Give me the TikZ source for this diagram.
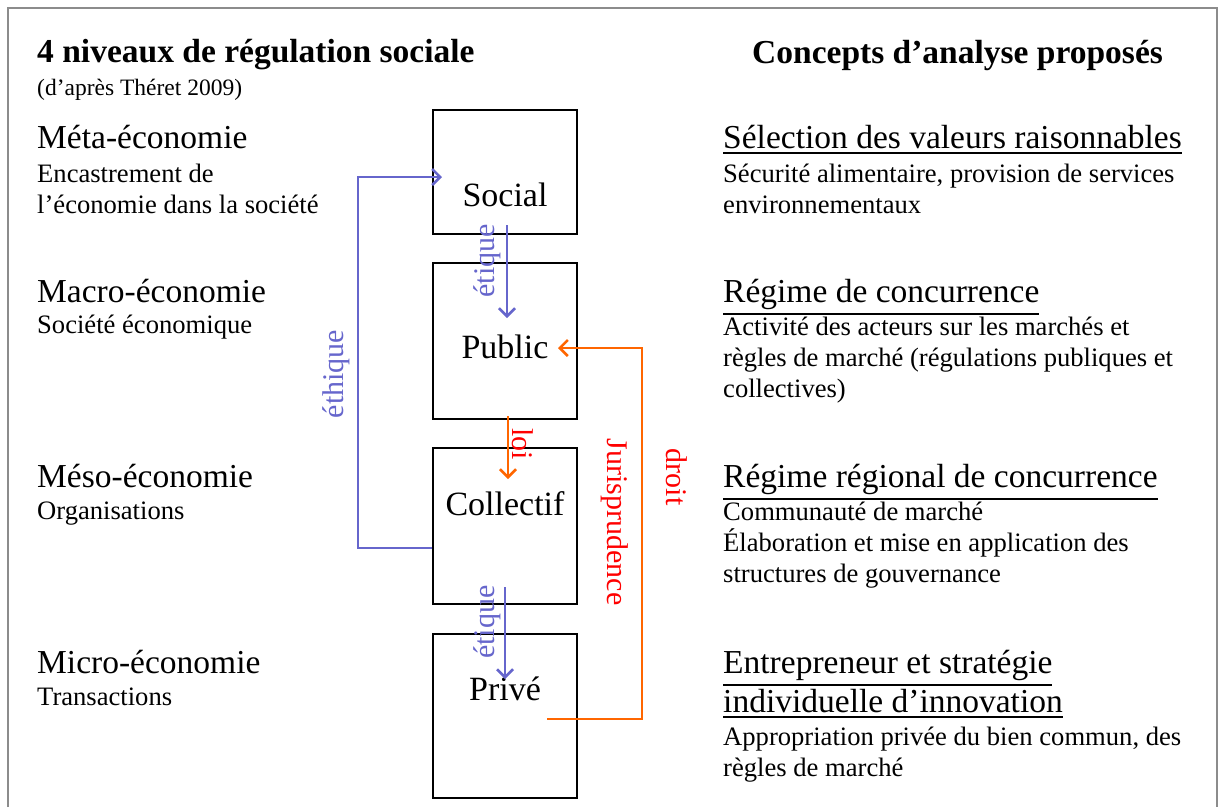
\documentclass[tikz,border=0pt]{standalone}
\usepackage{fontspec}
\setmainfont{Liberation Serif}
\usepackage{xcolor}
\usetikzlibrary{arrows.meta,calc}

\definecolor{ethblue}{HTML}{6666CC}
\definecolor{loiorange}{HTML}{FF6600}
\definecolor{loired}{HTML}{FF0000}
\definecolor{framegray}{HTML}{8C8C8C}
\newcommand{\fsz}[2]{\fontsize{#1}{#2}\selectfont}
\newcommand{\uln}[1]{\leavevmode\vtop{\hbox{#1}\kern3.5pt\hrule height 2pt}}

\tikzset{
  lvlbox/.style={draw, line width=2pt, minimum width=144pt, inner sep=0pt},
  boxtxt/.style={anchor=base, inner sep=0pt, font=\fsz{34}{38}},
  title/.style={anchor=base west, inner sep=0pt, font=\fsz{33.5}{38}\bfseries},
  head/.style={anchor=base west, inner sep=0pt, align=left, font=\fsz{33.5}{39}},
  sub/.style={anchor=base west, inner sep=0pt, align=left, font=\fsz{26.6}{31}},
  ethic/.style={draw=ethblue, line width=2.5pt, -{Straight Barb[length=8pt,width=16pt]}},
  legal/.style={draw=loiorange, line width=2.5pt, -{Straight Barb[length=8pt,width=16pt]}},
  bluelbl/.style={text=ethblue, inner sep=0pt, font=\fsz{30}{34}, rotate=90},
  redlbl/.style={text=loired, inner sep=0pt, font=\fsz{30}{34}, rotate=-90}
}

\begin{document}
\begin{tikzpicture}[x=1pt,y=-1pt]
    \useasboundingbox (0,0) rectangle (1226,807);
    \draw[framegray, line width=2pt] (8,807) -- (8,8) -- (1217,8) -- (1217,807);

    % left column (multi-line nodes sit on their last baseline)
    \node[title] (lefttitle) at (37,62) {4 niveaux de régulation sociale};
    \node[anchor=base west, inner sep=0pt, font=\fsz{23.5}{27}] (source) at (37,95) {(d'après Théret 2009)};
    \node[head] (meta) at (37,148) {Méta-économie};
    \node[sub] (metasub) at (37,213) {Encastrement de\\l'économie dans la société};
    \node[head] (macro) at (37,302) {Macro-économie};
    \node[sub] (macrosub) at (37,333) {Société économique};
    \node[head] (meso) at (37,487) {Méso-économie};
    \node[sub] (mesosub) at (37,519) {Organisations};
    \node[head] (micro) at (37,673) {Micro-économie};
    \node[sub] (microsub) at (37,705) {Transactions};

    % the four boxes
    \node[lvlbox, minimum height=124pt] (social) at (505,172) {};
    \node[lvlbox, minimum height=156pt] (public) at (505,341) {};
    \node[lvlbox, minimum height=156pt] (collectif) at (505,526) {};
    \node[lvlbox, minimum height=164pt] (prive) at (505,716) {};
    \node[boxtxt] (socialtxt) at (505,206) {Social};
    \node[boxtxt] (publictxt) at (505,358) {Public};
    \node[boxtxt] (collectiftxt) at (505,515) {Collectif};
    \node[boxtxt] (privetxt) at (505,700) {Privé};

    % arrows
    \coordinate (ethx) at (358,548);
    \draw[ethic] ($(collectif.west)+(0,22)$) -- (ethx) |- ($(social.west)+(10,5)$);
    \node[bluelbl] (ethique) at (336,374) {éthique};
    \draw[ethic] ($(social.south)+(2,-10)$) -- ($(public.center)+(2,-23)$);
    \node[bluelbl] (etique1) at (487,261) {étique};
    \draw[legal] ($(public.south)+(3,-4)$) -- ($(collectif.north)+(3,32)$);
    \node[redlbl] (loi) at (523,444) {loi};
    \draw[ethic] ($(collectif.south)+(0,-18)$) -- ($(prive.north)+(0,46)$);
    \node[bluelbl] (etique2) at (487,622) {étique};
    \coordinate (jurx) at (642,719);
    \draw[legal] ($(prive.center)+(42,3)$) -- (jurx) |- ($(public.east)+(-20,7)$);
    \node[redlbl] (juris) at (615,522) {Jurisprudence};
    \node[redlbl] (droit) at (677,477) {droit};

    % right column
    \node[title] (righttitle) at (752,63) {Concepts d'analyse proposés};
    \node[head] (c1) at (723,148) {\uln{Sélection des valeurs raisonnables}};
    \node[sub] (c1sub) at (723,213) {Sécurité alimentaire,  provision de services\\environnementaux};
    \node[head] (c2) at (723,302) {\uln{Régime de concurrence}};
    \node[sub] (c2sub) at (723,397) {Activité des acteurs sur les marchés et\\règles de marché (régulations publiques et\\collectives)};
    \node[head] (c3) at (723,487) {\uln{Régime régional de concurrence}};
    \node[sub] (c3sub) at (723,582) {Communauté de marché\\Élaboration et mise en application des\\structures de gouvernance};
    \node[head] (c4) at (723,712) {\uln{Entrepreneur et stratégie}\\\uln{individuelle d'innovation}};
    \node[sub] (c4sub) at (723,776) {Appropriation privée du bien commun, des\\règles de marché};
\end{tikzpicture}
\end{document}
